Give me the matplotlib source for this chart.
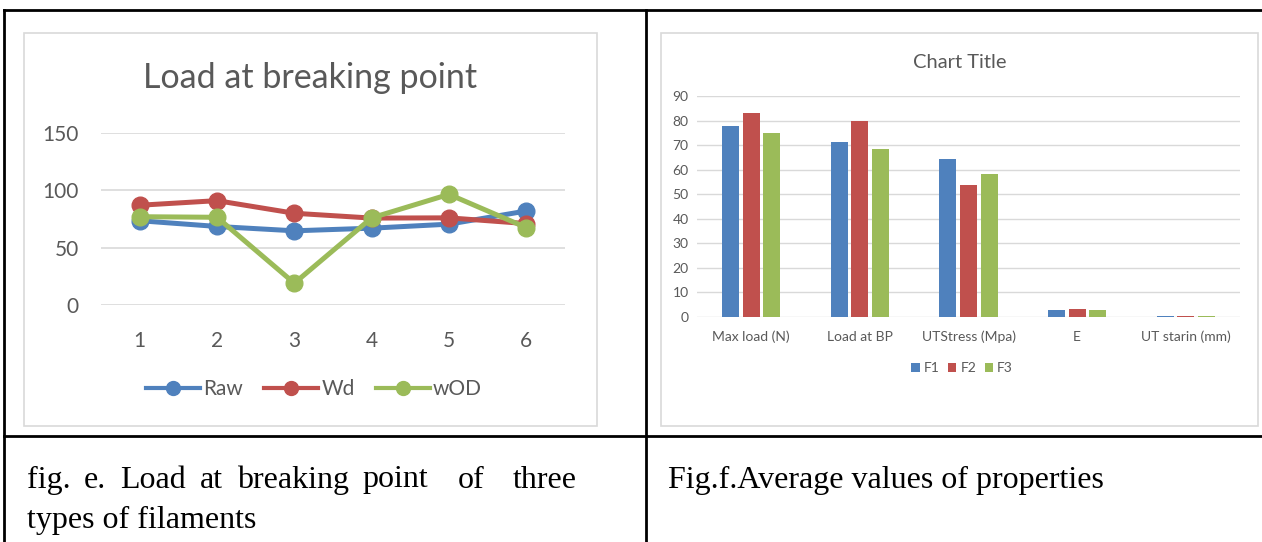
import numpy as np
import matplotlib.pyplot as plt
from matplotlib.lines import Line2D
from matplotlib.patches import Rectangle

# ---- data ----
samples = [1, 2, 3, 4, 5, 6]
raw = [73.5, 68.5, 64.7, 67.0, 70.5, 82.0]
wd = [87.0, 91.0, 80.0, 75.8, 76.0, 71.0]
wod = [77.0, 76.5, 19.0, 76.0, 96.5, 67.5]

props = ["Max load (N)", "Load at BP", "UTStress (Mpa)", "E", "UT starin (mm)"]
f1 = [77.7, 71.1, 64.3, 2.8, 0.5]
f2 = [83.2, 80.0, 53.7, 3.1, 0.5]
f3 = [75.1, 68.6, 58.1, 2.8, 0.5]

BLUE, RED, GREEN = "#4F81BD", "#C0504D", "#9BBB59"
GRID = "#D9D9D9"
TXT = "#595959"

W, H = 1262, 542
fig = plt.figure(figsize=(W / 100, H / 100), dpi=100)
plt.rcParams['font.family'] = ['Lato', 'DejaVu Sans']


def rect(x0, y0, x1, y1):
    # pixel box (top-left origin) -> figure fraction
    return [x0 / W, 1 - y1 / H, (x1 - x0) / W, (y1 - y0) / H]


def fx(x):
    return x / W


def fy(y):
    return 1 - y / H


# ---- table borders and chart frames ----
lw_tab = 2.0
fig.add_artist(Line2D([fx(4), 1], [fy(10), fy(10)], color="black", lw=lw_tab))
fig.add_artist(Line2D([fx(4), fx(4)], [fy(10), 0], color="black", lw=lw_tab))
fig.add_artist(Line2D([fx(646), fx(646)], [fy(10), 0], color="black", lw=lw_tab))
fig.add_artist(Line2D([fx(4), 1], [fy(436), fy(436)], color="black", lw=lw_tab))
for x0, x1 in [(24, 597), (661, 1258)]:
    fig.add_artist(Rectangle((fx(x0), fy(426)), fx(x1) - fx(x0), fy(33) - fy(426),
                             fill=False, edgecolor=GRID, lw=1.2))

# ---- left: line chart ----
ax1 = fig.add_axes(rect(101, 133, 565, 305))
for vals, col, lab in [(raw, BLUE, "Raw"), (wd, RED, "Wd"), (wod, GREEN, "wOD")]:
    ax1.plot(samples, vals, color=col, lw=3.6, marker="o", ms=12, label=lab,
             solid_capstyle="round")
ax1.set_xlim(0.5, 6.5)
ax1.set_ylim(0, 150)
ax1.set_yticks([0, 50, 100, 150])
ax1.set_xticks(samples)
ax1.grid(axis="y", color=GRID, lw=1.2)
ax1.set_axisbelow(True)
for s in ax1.spines.values():
    s.set_visible(False)
ax1.tick_params(length=0, labelsize=15, labelcolor=TXT)
ax1.tick_params(axis="y", pad=16)
ax1.tick_params(axis="x", pad=19)
fig.text(fx(310), fy(78), "Load at breaking point", ha="center", va="center",
         fontsize=24.5, color=TXT)
h1 = [Line2D([], [], color=c, lw=3, marker="o", ms=10) for c in (BLUE, RED, GREEN)]
fig.legend(h1, ["Raw", "Wd", "wOD"], loc="center",
           bbox_to_anchor=(fx(314), fy(389)), ncol=3, frameon=False,
           fontsize=15, labelcolor=TXT, handlelength=2.6, columnspacing=1.0,
           handletextpad=0.15)

# ---- right: bar chart ----
ax2 = fig.add_axes(rect(697, 96, 1240, 317))
x = np.arange(len(props))
off, bw = 0.19, 0.157
ax2.bar(x - off, f1, bw, color=BLUE, label="F1")
ax2.bar(x, f2, bw, color=RED, label="F2")
ax2.bar(x + off, f3, bw, color=GREEN, label="F3")
ax2.set_xlim(-0.5, len(props) - 0.5)
ax2.set_ylim(0, 90)
ax2.set_yticks(range(0, 91, 10))
ax2.set_xticks(x, props)
ax2.grid(axis="y", color=GRID, lw=1)
ax2.set_axisbelow(True)
for s in ax2.spines.values():
    s.set_visible(False)
ax2.tick_params(length=0, labelsize=10, labelcolor=TXT)
ax2.tick_params(axis="y", pad=6)
ax2.tick_params(axis="x", pad=10)
fig.text(fx(960), fy(63), "Chart Title", ha="center", va="center",
         fontsize=14.5, color=TXT)
fig.legend(*ax2.get_legend_handles_labels(), loc="center",
           bbox_to_anchor=(fx(962), fy(368)), ncol=3, frameon=False,
           fontsize=10, labelcolor=TXT, handlelength=0.6, handleheight=0.6,
           columnspacing=0.6, handletextpad=0.3)

# ---- captions (first line is justified in the original) ----
cap = dict(family="Liberation Serif", color="black", va="center", fontsize=23)
line1 = [("fig.", 27), ("e.", 84), ("Load", 120), ("at", 200),
         ("breaking", 237), ("point", 362), ("of", 458), ("three", 513)]
for word, px in line1:
    fig.text(fx(px), fy(480), word, **cap)
fig.text(fx(27), fy(520), "types of filaments", **cap)
fig.text(fx(668), fy(480), "Fig.f.Average values of properties", **cap)

fig.savefig("out.png", dpi=100)
